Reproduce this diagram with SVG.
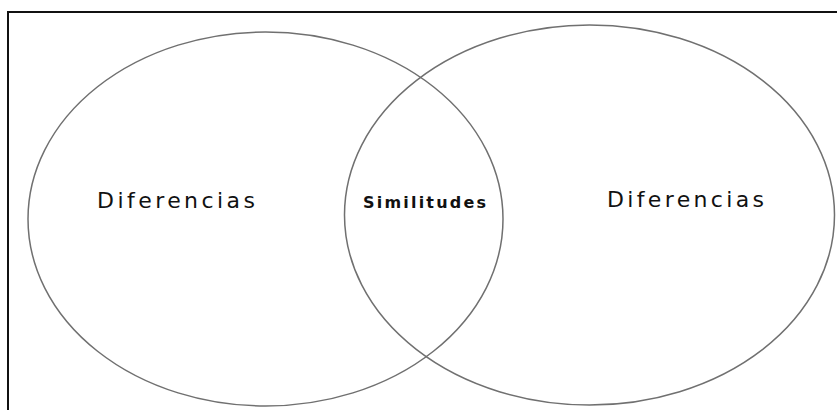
<svg xmlns="http://www.w3.org/2000/svg" width="837" height="410" viewBox="0 0 837 410">
<style>
.frame{stroke:#111;stroke-width:2;fill:none}
.circ{fill:none;stroke:#707070;stroke-width:1.5}
.lbl{font-family:"DejaVu Sans","Liberation Sans",sans-serif;font-size:22px;fill:#111}
.mid{font-family:"DejaVu Sans","Liberation Sans",sans-serif;font-size:16px;font-weight:bold;fill:#111}
</style>
<rect width="837" height="410" fill="#fff"/>
<g id="frame">
<path class="frame" d="M8 410 V12 H837"/>
</g>
<g id="left">
<ellipse class="circ" cx="265.5" cy="219" rx="237.5" ry="187"/>
<text class="lbl" x="97" y="208" textLength="158" lengthAdjust="spacing">Diferencias</text>
</g>
<g id="right">
<ellipse class="circ" cx="589.5" cy="215" rx="245" ry="190"/>
<text class="lbl" x="607" y="207" textLength="157" lengthAdjust="spacing">Diferencias</text>
</g>
<g id="center">
<text class="mid" x="363" y="208" textLength="123" lengthAdjust="spacing">Similitudes</text>
</g>
<g id="connectors"/>
</svg>
